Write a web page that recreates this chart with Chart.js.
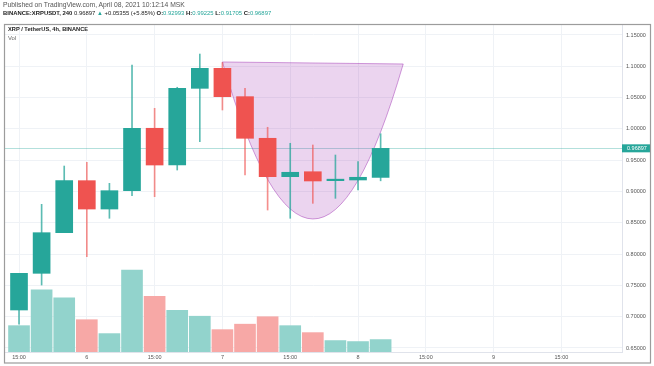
<!DOCTYPE html>
<html>
<head>
<meta charset="utf-8">
<script src="https://cdn.jsdelivr.net/npm/chart.js@4.4.0/dist/chart.umd.min.js"></script>
<style>
  html, body { margin: 0; padding: 0; background: #fff; }
  #wrap { position: relative; width: 654px; height: 366px; font-family: "Liberation Sans", Arial, sans-serif; }
  #chart { position: absolute; left: 0; top: 0; }
  .t { position: absolute; white-space: nowrap; line-height: 1; }
  .up { color: #26a69a; }
  b { font-weight: bold; }
</style>
</head>
<body>
<div id="wrap">
  <canvas id="chart" width="654" height="366"></canvas>
  <div class="t" style="left:3px;top:2px;font-size:6.75px;color:#555">Published on TradingView.com, April 08, 2021 10:12:14 MSK</div>
  <div class="t" style="left:3px;top:11px;font-size:5.9px;color:#222"><b>BINANCE:XRPUSDT, 240</b> 0.96897 <span class="up">▲</span> +0.05355 (+5.85%) <b>O:</b><span class="up">0.92993</span> <b>H:</b><span class="up">0.99225</span> <b>L:</b><span class="up">0.91705</span> <b>C:</b><span class="up">0.96897</span></div>
  <div class="t" style="left:8px;top:27px;font-size:5.7px;color:#222"><b>XRP / TetherUS, 4h, BINANCE</b></div>
  <div class="t" style="left:8px;top:36px;font-size:5.9px;color:#666">Vol</div>
</div>
<script>
// 4h candles, BINANCE XRPUSDT, 5 Apr 15:00 -> 8 Apr 07:00
const opens  = [0.7107, 0.7693, 0.8342, 0.9173, 0.8720, 0.9013, 1.0010, 0.9423, 1.0648, 1.0968, 1.0515, 0.9850, 0.9237, 0.9316, 0.9173, 0.9184, 0.9225];
const highs  = [0.7693, 0.8795, 0.9407, 0.9466, 0.9131, 1.1021, 1.0329, 1.0665, 1.1196, 1.1060, 1.0648, 1.0026, 0.9770, 0.9743, 0.9583, 0.9476, 0.99225];
const lows   = [0.6880, 0.7506, 0.8342, 0.7959, 0.8572, 0.8933, 0.8917, 0.9343, 0.9796, 1.0302, 0.9264, 0.8704, 0.8572, 0.8811, 0.8891, 0.9024, 0.91705];
const closes = [0.7693, 0.8342, 0.9173, 0.8720, 0.9013, 1.0010, 0.9423, 1.0648, 1.0968, 1.0515, 0.9850, 0.9237, 0.9307, 0.9168, 0.9175, 0.9227, 0.96897];
const volumes = [53, 125, 109, 65, 37, 165, 112, 84, 72, 45, 56, 71, 53, 39, 23, 21, 25]; // millions

const priceTicks = [0.65, 0.70, 0.75, 0.80, 0.85, 0.90, 0.95, 1.00, 1.05, 1.10, 1.15];
const timeTickIdx = [0, 3, 6, 9, 12, 15, 18, 21, 24];
const timeTickLabels = ["15:00", "6", "15:00", "7", "15:00", "8", "15:00", "9", "15:00"];

// cup drawing: [bar index, price] for left rim, bottom, right rim
const cupArc = [[9.0, 1.1069], [13.0, 0.8561], [17.0, 1.1037]];

const UP = "#26a69a", DOWN = "#ef5350";
const isUp = opens.map((o, i) => closes[i] >= o);
const font = { family: "'Liberation Sans', Arial, sans-serif", size: 5.5 };
const lastClose = closes[closes.length - 1];

const overlay = {
  id: "overlay",
  beforeDatasetsDraw(chart) {
    const { ctx, chartArea: a, scales: { x, y } } = chart;
    ctx.save();
    ctx.beginPath();
    ctx.rect(a.left, a.top, a.right - a.left, a.bottom - a.top);
    ctx.clip();
    // last price line
    const py = Math.round(y.getPixelForValue(lastClose)) + 0.5;
    ctx.strokeStyle = "rgba(38,166,154,0.35)";
    ctx.lineWidth = 1;
    ctx.beginPath(); ctx.moveTo(a.left, py); ctx.lineTo(a.right, py); ctx.stroke();
    // cup arc
    const p = cupArc.map(([i, v]) => [x.getPixelForValue(i), y.getPixelForValue(v)]);
    const cx = 2 * p[1][0] - (p[0][0] + p[2][0]) / 2;
    const cy = 2 * p[1][1] - (p[0][1] + p[2][1]) / 2;
    ctx.beginPath();
    ctx.moveTo(p[0][0], p[0][1]);
    ctx.quadraticCurveTo(cx, cy, p[2][0], p[2][1]);
    ctx.closePath();
    ctx.fillStyle = "rgba(156,39,176,0.2)";
    ctx.fill();
    ctx.strokeStyle = "rgba(156,39,176,0.45)";
    ctx.stroke();
    ctx.restore();
  },
  afterDraw(chart) {
    const { ctx, chartArea: a, scales: { y } } = chart;
    ctx.save();
    // last price label on the axis
    const py = y.getPixelForValue(lastClose);
    ctx.fillStyle = UP;
    ctx.fillRect(a.right, py - 4, 28, 8);
    ctx.fillStyle = "#fff";
    ctx.font = "5.5px 'Liberation Sans', Arial, sans-serif";
    ctx.textBaseline = "middle";
    ctx.fillText(lastClose.toFixed(5), a.right + 5, py + 0.5);
    // outer frame
    ctx.strokeStyle = "#9c9c9c";
    ctx.lineWidth = 1.2;
    ctx.strokeRect(4.5, 24.5, 646, 338.5);
    ctx.restore();
  }
};

new Chart(document.getElementById("chart"), {
  type: "bar",
  data: {
    datasets: [
      {
        label: "Body",
        data: opens.map((o, i) => ({ x: i, y: [o, closes[i]] })),
        backgroundColor: isUp.map(u => u ? UP : DOWN),
        barThickness: 17,
        minBarLength: 1.5,
        grouped: false,
        order: 1
      },
      {
        label: "Wick",
        data: lows.map((l, i) => ({ x: i, y: [l, highs[i]] })),
        backgroundColor: isUp.map(u => u ? "rgba(38,166,154,0.75)" : "rgba(239,83,80,0.65)"),
        barThickness: 1,
        grouped: false,
        order: 2
      },
      {
        label: "Vol",
        data: volumes.map((v, i) => ({ x: i, y: v })),
        yAxisID: "v",
        backgroundColor: isUp.map(u => u ? "#92d3cc" : "#f7a8a6"),
        barThickness: 21,
        grouped: false,
        order: 3
      }
    ]
  },
  options: {
    responsive: false,
    animation: false,
    layout: { padding: { left: 5, top: 24, right: 3, bottom: 3 } },
    plugins: { legend: { display: false }, tooltip: { enabled: false } },
    scales: {
      x: {
        type: "linear",
        min: -0.62,
        max: 26.68,
        offset: false,
        afterBuildTicks: ax => { ax.ticks = timeTickIdx.map(v => ({ value: v })); },
        afterFit: ax => { ax.height = 11; },
        ticks: {
          callback: v => timeTickLabels[timeTickIdx.indexOf(v)],
          autoSkip: false, maxRotation: 0, padding: 2,
          font, color: "#555"
        },
        grid: { color: "#eff2f6", drawTicks: false, offset: false },
        border: { color: "#e0e3eb" }
      },
      y: {
        position: "right",
        min: 0.64361,
        max: 1.16757,
        afterBuildTicks: ax => { ax.ticks = priceTicks.map(v => ({ value: v })); },
        afterFit: ax => { ax.width = 29; },
        ticks: { callback: v => v.toFixed(5), padding: 4, font, color: "#555" },
        grid: { color: "#eff2f6", drawTicks: false },
        border: { color: "#e0e3eb" }
      },
      v: { display: false, min: 0, max: 660 }
    }
  },
  plugins: [overlay]
});
</script>
</body>
</html>
